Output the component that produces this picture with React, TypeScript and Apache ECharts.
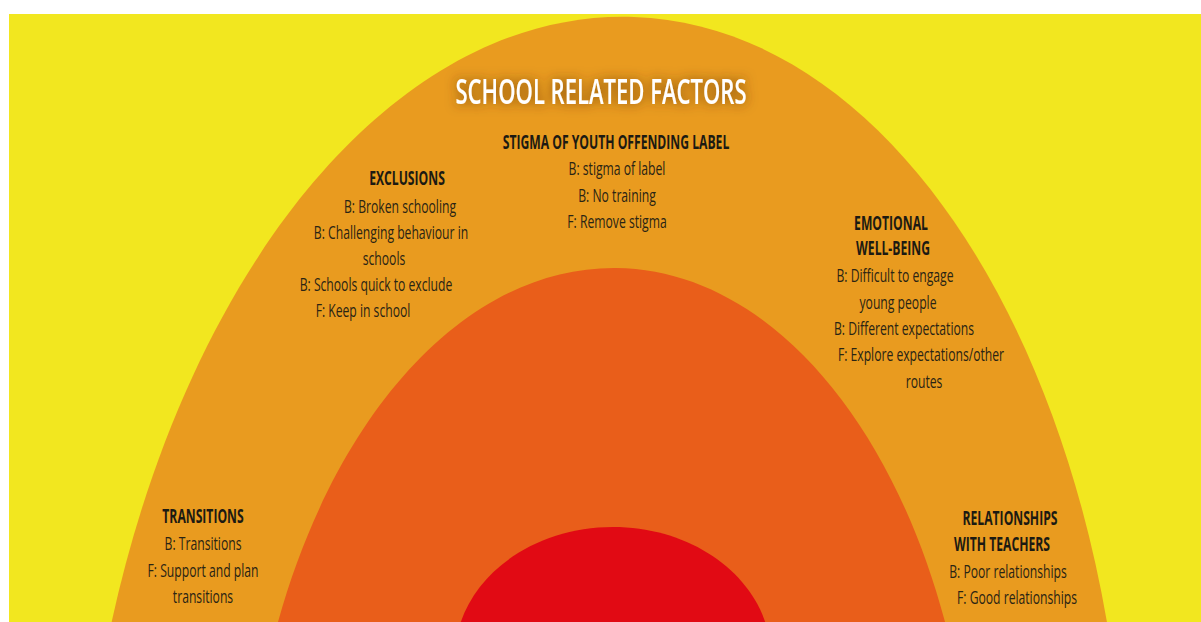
import React, { useEffect, useRef } from "react";
import * as echarts from "echarts";

// ---- data ----
const chartTitle = "SCHOOL RELATED FACTORS";
const ringNames = ["Outer: school related factors", "Middle", "Inner"];
const ringColors = ["#E99B1F", "#E95E1A", "#E10A14"];
const backgroundColor = "#F2E71F";

const factorHeaders = [
  ["STIGMA OF YOUTH OFFENDING LABEL"],
  ["EXCLUSIONS"],
  ["EMOTIONAL", "WELL-BEING"],
  ["TRANSITIONS"],
  ["RELATIONSHIPS", "WITH TEACHERS"],
];
const stigmaLines = ["B: stigma of label", "B: No training", "F: Remove stigma"];
const exclusionLines = [
  "B: Broken schooling",
  "B: Challenging behaviour in",
  "schools",
  "B: Schools quick to exclude",
  "F: Keep in school",
];
const emotionalLines = [
  "B: Difficult to engage",
  "young people",
  "B: Different expectations",
  "F: Explore expectations/other",
  "routes",
];
const transitionLines = ["B: Transitions", "F: Support and plan", "transitions"];
const relationshipLines = ["B: Poor relationships", "F: Good relationships"];
const factorLines = [stigmaLines, exclusionLines, emotionalLines, transitionLines, relationshipLines];

// ---- layout (page coordinates) ----
const OX = 9;
const OY = 14;
const ringGeometry = [
  { cx: 603, cy: 899, rx: 524, ry: 883, rot: -0.035 },
  { cx: 610, cy: 865, rx: 365, ry: 597, rot: -0.01 },
  { cx: 613, cy: 657, rx: 158, ry: 130, rot: 0.0 },
];
// positions of each text line (header lines first, then body lines)
const blockLayout = [
  [[616, 142], [617, 168], [617, 195], [617, 221]],
  [[407, 178], [400, 206], [391, 232], [384, 258], [376, 284], [363, 310]],
  [[891, 223], [893, 248], [895, 275], [898, 302], [904, 328], [921, 354], [924, 381]],
  [[203, 516], [203, 543], [203, 570], [203, 596]],
  [[1010, 518], [1002, 544], [1008, 571], [1017, 597]],
];
const TITLE_POS = [601, 91];
const FONT = "'Open Sans', 'Noto Sans', sans-serif";
const SX = 0.64;

function textEl(text: string, x: number, y: number, size: number, weight: number, fill: string, sx: number, extra: any = {}) {
  return {
    type: "text",
    x: x - OX,
    y: y - OY,
    scaleX: sx,
    silent: true,
    style: {
      text,
      fill,
      fontSize: size,
      fontWeight: weight,
      fontFamily: FONT,
      align: "center",
      verticalAlign: "middle",
      textAlign: "center",
      textVerticalAlign: "middle",
      ...extra,
    },
  };
}

export default function App() {
  const ref = useRef<HTMLDivElement>(null);
  useEffect(() => {
    if (!ref.current) return;
    const chart = echarts.init(ref.current, undefined, { renderer: "svg" });
    const elements: any[] = [];
    ringGeometry.forEach((g, i) => {
      elements.push({
        type: "ellipse",
        name: ringNames[i],
        silent: true,
        x: g.cx - OX,
        y: g.cy - OY,
        rotation: g.rot,
        shape: { cx: 0, cy: 0, rx: g.rx, ry: g.ry },
        style: { fill: ringColors[i] },
      });
    });
    factorHeaders.forEach((hdr, bi) => {
      const pos = blockLayout[bi];
      let k = 0;
      hdr.forEach((h) => {
        const [x, y] = pos[k++];
        elements.push(textEl(h, x, y, 19, 700, "#1c1a12", SX));
      });
      factorLines[bi].forEach((l) => {
        const [x, y] = pos[k++];
        elements.push(textEl(l, x, y, 19, 500, "#2a2414", SX));
      });
    });
    elements.push(
      textEl(chartTitle, TITLE_POS[0], TITLE_POS[1], 35, 600, "#ffffff", 0.63, {
        textShadowBlur: 12,
        textShadowColor: "rgba(90,45,0,0.8)",
        shadowBlur: 12,
        shadowColor: "rgba(90,45,0,0.8)",
      })
    );
    chart.setOption({
      animation: false,
      backgroundColor,
      graphic: { elements },
    });
    return () => chart.dispose();
  }, []);
  return (
    <div
      ref={ref}
      style={{ position: "absolute", left: OX, top: OY, width: 1201 - OX, height: 622 - OY }}
    />
  );
}
